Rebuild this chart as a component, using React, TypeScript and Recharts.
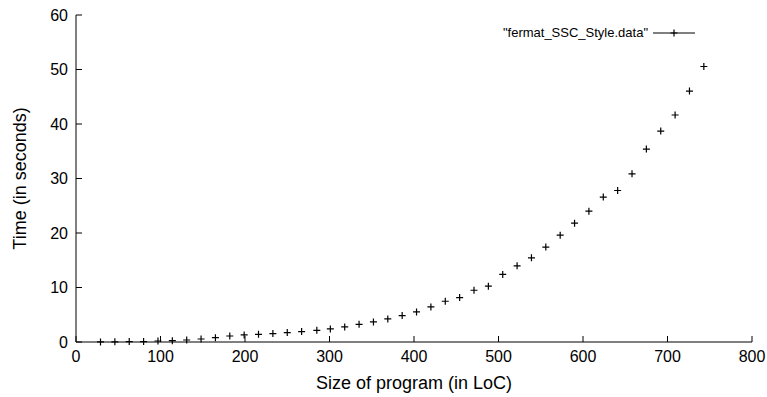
import { ScatterChart, Scatter, XAxis, YAxis, Legend } from "recharts";

const FONT = "'Liberation Sans', Arial, Helvetica, sans-serif";

// program size (LoC) and run time (s)
const sizes = [
  29, 46, 63, 80, 97, 114, 131, 148, 165, 182, 199, 216, 233, 250, 267, 285,
  301, 318, 335, 352, 369, 386, 403, 420, 437, 454, 471, 488, 505, 522, 539,
  556, 573, 590, 607, 624, 641, 658, 675, 692, 709, 726, 743,
];
const times = [
  0.02, 0.03, 0.08, 0.08, 0.18, 0.25, 0.37, 0.55, 0.8, 1.1, 1.3, 1.4, 1.55,
  1.73, 1.91, 2.15, 2.39, 2.76, 3.25, 3.68, 4.23, 4.85, 5.51, 6.43, 7.48, 8.16,
  9.5, 10.24, 12.39, 13.97, 15.44, 17.41, 19.61, 21.8, 24.0, 26.6, 27.8, 30.85,
  35.4, 38.7, 41.65, 46.05, 50.55,
];
const xTicks = [0, 100, 200, 300, 400, 500, 600, 700, 800];
const yTicks = [0, 10, 20, 30, 40, 50, 60];
const seriesName = '"fermat_SSC_Style.data"';

const data = sizes.map((loc, i) => ({ loc, time: times[i] }));

const Cross = (props: any) => {
  const { cx, cy } = props;
  return (
    <path
      d={`M${cx - 3.5},${cy}H${cx + 3.5}M${cx},${cy - 3.5}V${cy + 3.5}`}
      stroke="#000"
      strokeWidth={1.2}
      fill="none"
    />
  );
};

const LegendKey = () => (
  <div
    style={{
      display: "flex",
      justifyContent: "flex-end",
      alignItems: "center",
      fontFamily: FONT,
      fontSize: 13,
      color: "#000",
    }}
  >
    <span>{seriesName}</span>
    <svg width={47} height={10}>
      <line x1={5} y1={5} x2={47} y2={5} stroke="#000" strokeWidth={1} />
      <path d="M22.5,5H29.5M26,1.5V8.5" stroke="#000" strokeWidth={1.2} />
    </svg>
  </div>
);

const tickStyle = { fill: "#000", fontSize: 16, fontFamily: FONT };

export default function App() {
  return (
    <div style={{ position: "absolute", left: 0, top: 0, background: "#fff" }}>
      <ScatterChart
        width={767}
        height={397}
        margin={{ top: 15, right: 15, bottom: 0, left: 0 }}
      >
        <XAxis
          xAxisId="main"
          dataKey="loc"
          type="number"
          domain={[0, 800]}
          ticks={xTicks}
          height={55}
          stroke="#000"
          tickSize={-6}
          tickMargin={15}
          tick={tickStyle}
          label={{
            value: "Size of program (in LoC)",
            position: "insideBottom",
            offset: 8,
            style: { fill: "#000", fontSize: 18, fontFamily: FONT },
          }}
        />
        <XAxis
          xAxisId="top"
          orientation="top"
          type="number"
          domain={[0, 800]}
          ticks={xTicks}
          height={0}
          stroke="#000"
          tickSize={-6}
          tick={false}
        />
        <YAxis
          yAxisId="main"
          dataKey="time"
          type="number"
          domain={[0, 60]}
          ticks={yTicks}
          width={76}
          stroke="#000"
          tickSize={-6}
          tickMargin={14}
          tick={tickStyle}
          label={{
            value: "Time (in seconds)",
            angle: -90,
            position: "insideLeft",
            offset: 20,
            style: { fill: "#000", fontSize: 18, fontFamily: FONT, textAnchor: "middle" },
          }}
        />
        <YAxis
          yAxisId="right"
          orientation="right"
          type="number"
          domain={[0, 60]}
          ticks={yTicks}
          width={0}
          stroke="#000"
          tickSize={-6}
          tick={false}
        />
        <Legend
          layout="horizontal"
          verticalAlign="middle"
          content={<LegendKey />}
          wrapperStyle={{ left: 445, top: 25, width: 250 }}
        />
        <Scatter
          xAxisId="main"
          yAxisId="main"
          name={seriesName}
          data={data}
          shape={<Cross />}
          isAnimationActive={false}
        />
      </ScatterChart>
    </div>
  );
}
